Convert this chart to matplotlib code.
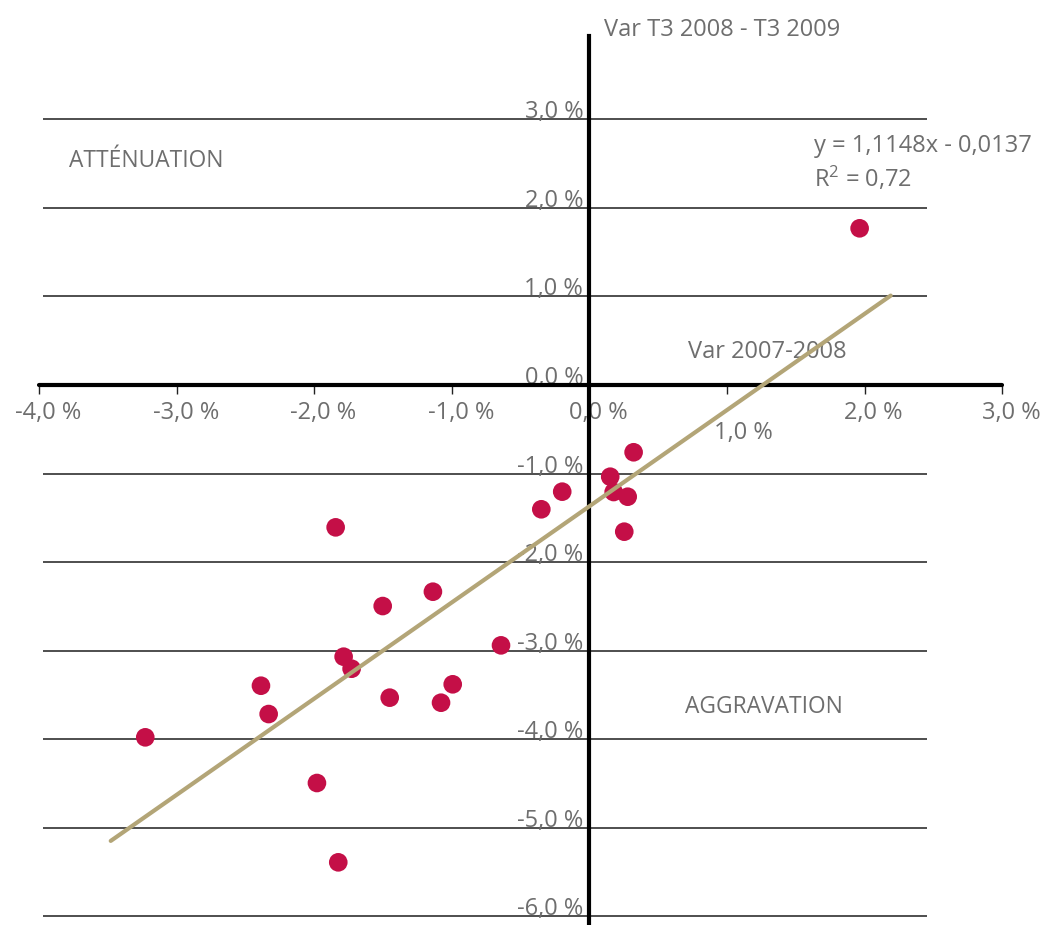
import matplotlib
matplotlib.use("Agg")
import matplotlib.pyplot as plt
import matplotlib.transforms as mtransforms

# ---- data (percent) ----
var_2007_2008 = [1.964, 0.321, 0.151, 0.176, 0.278, 0.253, -0.198, -0.350, -1.845, -1.138, -1.503,
                 -0.643, -1.787, -1.729, -2.388, -2.332, -1.452, -0.994, -1.079, -3.229, -1.981, -1.826]
var_t3_2008_2009 = [1.770, -0.760, -1.036, -1.209, -1.262, -1.657, -1.205, -1.404, -1.608, -2.335, -2.497,
                    -2.941, -3.069, -3.205, -3.397, -3.717, -3.532, -3.381, -3.589, -3.980, -4.496, -5.392]
trend_x = [-3.48, 2.19]
trend_y = [-5.15, 1.01]
x_ticks = [-4, -3, -2, -1, 0, 1, 2, 3]
y_ticks = [-6, -5, -4, -3, -2, -1, 0, 1, 2, 3]
x_labels = ["-4,0 %", "-3,0 %", "-2,0 %", "-1,0 %", "0,0 %", "1,0 %", "2,0 %", "3,0 %"]
y_labels = ["-6,0 %", "-5,0 %", "-4,0 %", "-3,0 %", "-2,0 %", "-1,0 %", "0,0 %", "1,0 %", "2,0 %", "3,0 %"]

FONT = "Open Sans"
GRAY = "#6e6e6e"
FS = 17
plt.rcParams["font.family"] = [FONT, "DejaVu Sans"]
plt.rcParams["mathtext.default"] = "regular"

fig = plt.figure(figsize=(10.43, 9.25), dpi=100)
ax = fig.add_axes([0, 0, 1, 1])
ax.set_xlim(-4.285, 3.297)
ax.set_ylim(-6.100, 4.349)
ax.patch.set_visible(False)

for s in ["top", "right"]:
    ax.spines[s].set_visible(False)
ax.spines["bottom"].set_position(("data", 0))
ax.spines["bottom"].set_bounds(-4, 3)
ax.spines["bottom"].set_linewidth(3)
ax.spines["bottom"].set_capstyle("round")
ax.spines["left"].set_position(("data", 0))
ax.spines["left"].set_bounds(-6.2, 3.943)
ax.spines["left"].set_linewidth(3)
for s in ["bottom", "left"]:
    ax.spines[s].set_zorder(4)

# grid lines (limited extent)
grid_vals = [v for v in y_ticks if v != 0]
ax.hlines(grid_vals, -3.97, 2.455, colors="#1e1e1e", linewidth=1.1, zorder=1)

ax.set_xticks(x_ticks, x_labels)
ax.set_yticks(y_ticks, y_labels)
ax.tick_params(axis="x", direction="out", length=6.5, width=1, color="#222222",
               labelsize=FS, labelcolor=GRAY, pad=5)
ax.tick_params(axis="y", length=0, labelsize=FS, labelcolor=GRAY, pad=4.5)

dpi_tr = fig.dpi_scale_trans
for lab in ax.get_xticklabels():
    dx, dy = 9, 0
    if lab.get_text() == "1,0 %":
        dx, dy = 16, -20
    lab.set_transform(lab.get_transform() + mtransforms.ScaledTranslation(dx / 100, dy / 100, dpi_tr))
for lab in ax.get_yticklabels():
    lab.set_verticalalignment("baseline")
    lab.set_transform(lab.get_transform() + mtransforms.ScaledTranslation(0, 1 / 100, dpi_tr))

# points
ax.scatter(var_2007_2008, var_t3_2008_2009, s=180, color="#c40f47", edgecolors="none", zorder=3)

# annotations (below the trend line)
ax.text(0.105, 3.943, "Var T3 2008 - T3 2009", fontsize=FS, color=GRAY, va="baseline", ha="left", zorder=2)
ax.text(0.714, 0.302, "Var 2007-2008", fontsize=FS, color=GRAY, va="baseline", ha="left", zorder=2)
ax.text(-3.781, 2.466, "ATTÉNUATION", fontsize=16.4, color=GRAY, va="baseline", ha="left", zorder=2)
ax.text(0.694, -3.705, "AGGRAVATION", fontsize=16.4, color=GRAY, va="baseline", ha="left", zorder=2)
ax.text(1.632, 2.636, "y = 1,1148x - 0,0137", fontsize=FS, color=GRAY, va="baseline", ha="left", zorder=2)
ax.text(1.632, 2.240, "R$^{2}$ = 0,72", fontsize=FS, color=GRAY, va="baseline", ha="left", zorder=2)

# trend line
ax.plot(trend_x, trend_y, color="#b3a577", linewidth=3, solid_capstyle="round", zorder=5)

fig.savefig("out.png", dpi=100)
